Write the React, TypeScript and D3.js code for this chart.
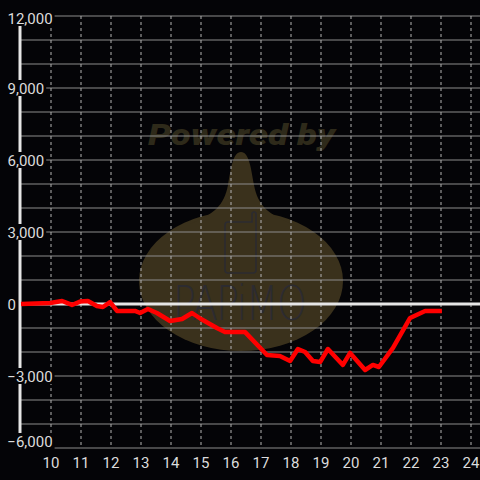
import React, { useEffect } from "react";
import * as d3 from "d3";

const xValues = [9.0, 9.97, 10.37, 10.7, 10.97, 11.23, 11.53, 11.73, 11.97, 12.2, 12.8, 12.97, 13.23, 13.53, 13.97, 14.37, 14.7, 15.0, 15.53, 15.8, 16.47, 17.2, 17.63, 17.97, 18.23, 18.47, 18.73, 18.97, 19.23, 19.73, 19.97, 20.47, 20.73, 20.93, 21.4, 21.97, 22.47, 23.03];
const yValues = [0, 40, 125, -40, 100, 125, -80, -125, 80, -290, -290, -375, -210, -375, -710, -625, -375, -625, -1000, -1170, -1170, -2125, -2170, -2375, -1875, -2000, -2375, -2420, -1875, -2540, -2040, -2750, -2540, -2625, -1830, -580, -290, -290];
const xTicks = [10, 11, 12, 13, 14, 15, 16, 17, 18, 19, 20, 21, 22, 23, 24];
const yLabelTicks = [12000, 9000, 6000, 3000, 0, -3000, -6000];
const yGridTicks = d3.range(-6000, 12001, 1000);

const W = 480;
const H = 480;

export default function App() {
  useEffect(() => {
    document.body.style.margin = "0";
    document.body.style.background = "#040407";
  }, []);

  const x = d3.scaleLinear().domain([9, 24.3]).range([21, 480]);
  const y = d3.scaleLinear().domain([-6000, 12000]).range([448, 16]);
  const fmt = d3.format(",");
  const data = xValues.map((v, i) => [v, yValues[i]] as [number, number]);
  const line = d3
    .line<[number, number]>()
    .x((d) => x(d[0]))
    .y((d) => y(d[1]))
    .curve(d3.curveLinear);

  const axisX = x(9) - 1;
  const font = "Roboto, 'Noto Sans', sans-serif";
  const charW = 8.4;

  const labelWidth = (s: string) => {
    let w = 0;
    for (const c of s) {
      if (c === ",") w += 3.6;
      else if (c === "-") w += 0;
      else w += charW;
    }
    return w;
  };

  return (
    <svg
      width={W}
      height={H}
      style={{ position: "absolute", left: 0, top: 0, background: "#040407", display: "block" }}
    >
      <rect x={0} y={0} width={W} height={H} fill="#040407" />
      {/* watermark */}
      <g>
        <text
          x={148}
          y={145}
          textLength={187}
          lengthAdjust="spacingAndGlyphs"
          fontFamily={font}
          fontWeight={900}
          fontStyle="italic"
          fontSize={29}
          fill="#2e2a1a"
        >
          Powered by
        </text>
        <ellipse cx={241} cy={281} rx={102} ry={70} fill="#3a311c" />
        <path
          d="M 241 152 C 233 152 231 168 228 185 C 224 206 214 214 190 224 L 292 224 C 268 214 258 206 254 185 C 251 168 249 152 241 152 Z"
          fill="#3a311c"
        />
        <path
          d="M 228 222 L 252 222 L 252 214 Q 252 212 254 212 Q 256 212 256 214 L 256 270 Q 256 273 253 273 L 228 273 Q 225 273 225 270 L 225 225 Q 225 222 228 222 Z"
          fill="none"
          stroke="#2c2b30"
          strokeWidth={1.6}
        />
        <text
          x={173}
          y={320}
          textLength={134}
          lengthAdjust="spacing"
          fontFamily="'DejaVu Sans', sans-serif"
          fontWeight={200}
          fontSize={38}
          transform="translate(173 320) scale(1 1.25) translate(-173 -320)"
          fill="#2c2b30"
        >
          PAPiMO
        </text>
      </g>
      {/* horizontal grid */}
      {yGridTicks.map((t) => (
        <line key={"h" + t} x1={axisX} x2={W} y1={y(t)} y2={y(t)} stroke="#8c8c8c" strokeWidth={1} />
      ))}
      {/* vertical dashed grid */}
      {xTicks.map((t) => (
        <line
          key={"v" + t}
          x1={x(t)}
          x2={x(t)}
          y1={y(12000)}
          y2={y(-6000)}
          stroke="#b4b4b4"
          strokeWidth={1}
          strokeDasharray="3,3"
        />
      ))}
      {/* zero line */}
      <line x1={axisX} x2={W} y1={y(0)} y2={y(0)} stroke="#e6e6e6" strokeWidth={3} />
      {/* y axis line */}
      <line x1={axisX} x2={axisX} y1={y(11650)} y2={y(-6000)} stroke="#e6e6e6" strokeWidth={3} />
      {/* data line */}
      <path
        d={line(data) || ""}
        fill="none"
        stroke="#ff0000"
        strokeWidth={4.5}
        strokeLinejoin="round"
        strokeLinecap="butt"
      />
      {/* y labels */}
      {yLabelTicks.map((t) => {
        const s = fmt(t);
        const w = labelWidth(s);
        const end = Math.max(16, 7 + w);
        const full = s.startsWith("-") ? w + 5 : w;
        const cy = Math.min(441, Math.max(18, y(t)));
        return (
          <g key={"yl" + t}>
            {t !== 0 && (
              <rect x={end - full - 1} y={cy - 8} width={full + 3} height={16} fill="#040407" />
            )}
            <text
              x={end}
              y={cy + 5.5}
              textAnchor="end"
              fontFamily={font}
              fontSize={15}
              fill="#dcdcdc"
            >
              {s}
            </text>
          </g>
        );
      })}
      {/* x labels */}
      {xTicks.map((t) => (
        <text
          key={"xl" + t}
          x={x(t)}
          y={468}
          textAnchor="middle"
          fontFamily={font}
          fontSize={15}
          fill="#dcdcdc"
        >
          {t}
        </text>
      ))}
    </svg>
  );
}
